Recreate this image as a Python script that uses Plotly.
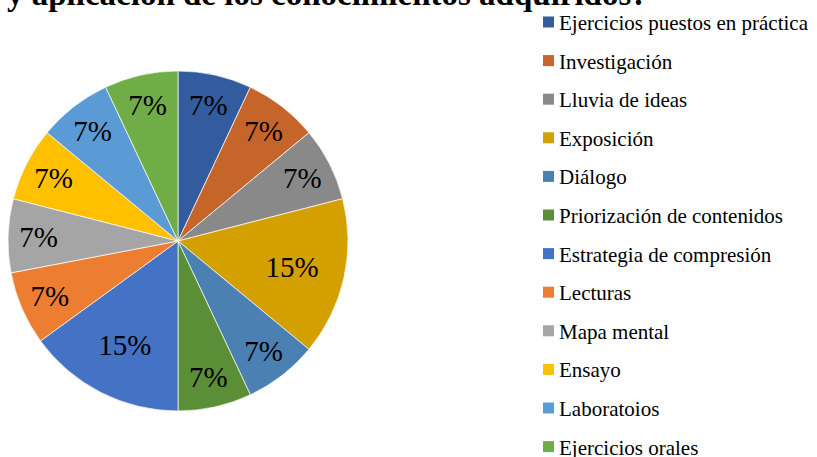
import plotly.graph_objects as go

W, H = 817, 457

labels = [
    "Ejercicios puestos en práctica",
    "Investigación",
    "Lluvia de ideas",
    "Exposición",
    "Diálogo",
    "Priorización de contenidos",
    "Estrategia de compresión",
    "Lecturas",
    "Mapa mental",
    "Ensayo",
    "Laboratoios",
    "Ejercicios orales",
]
values = [7, 7, 7, 15, 7, 7, 15, 7, 7, 7, 7, 7]
colors = [
    "#335C9F", "#C5652A", "#898989", "#D4A000", "#4A80B2", "#5B8F37",
    "#4472C4", "#ED7D31", "#A5A5A5", "#FFC000", "#5B9BD5", "#70AD47",
]
title_text = "y aplicación de los conocimientos adquiridos?"

SERIF = "Liberation Serif, Times New Roman, serif"


def px_x(x):
    return x / W


def px_y(y):
    # y measured from the top of the page
    return 1 - y / H


fig = go.Figure()
fig.add_trace(
    go.Pie(
        labels=labels,
        values=values,
        sort=False,
        direction="clockwise",
        rotation=0,
        marker=dict(colors=colors, line=dict(color="#FFFFFF", width=0.7)),
        texttemplate="%{percent:.0%}",
        textposition="inside",
        insidetextorientation="horizontal",
        textfont=dict(family=SERIF, size=29, color="#000000"),
        hoverinfo="label+percent",
        showlegend=False,
        domain=dict(x=[px_x(8), px_x(348)], y=[px_y(411), px_y(71)]),
    )
)

# legend drawn by hand so the spacing matches the original
shapes = []
annotations = []
for i, (lab, col) in enumerate(zip(labels, colors)):
    yc = 22 + i * 38.6
    shapes.append(
        dict(
            type="rect", xref="paper", yref="paper",
            x0=px_x(543), x1=px_x(554), y0=px_y(yc + 5.5), y1=px_y(yc - 5.5),
            fillcolor=col, line=dict(width=0),
        )
    )
    annotations.append(
        dict(
            text=lab, xref="paper", yref="paper",
            x=px_x(557), y=px_y(yc + 1), xanchor="left", yanchor="middle",
            showarrow=False, font=dict(family=SERIF, size=21, color="#000000"),
        )
    )

annotations.append(
    dict(
        text="<b>" + title_text + "</b>", xref="paper", yref="paper",
        x=px_x(5), y=px_y(14), xanchor="left", yanchor="bottom",
        showarrow=False, font=dict(family=SERIF, size=33, color="#000000"),
    )
)

fig.update_layout(
    width=W,
    height=H,
    margin=dict(l=0, r=0, t=0, b=0),
    paper_bgcolor="#FFFFFF",
    plot_bgcolor="#FFFFFF",
    uniformtext=dict(minsize=29, mode="show"),
    shapes=shapes,
    annotations=annotations,
)

fig.write_html(
    "out.html",
    config={"displayModeBar": False},
    post_script="document.body.style.margin = '0';",
)
